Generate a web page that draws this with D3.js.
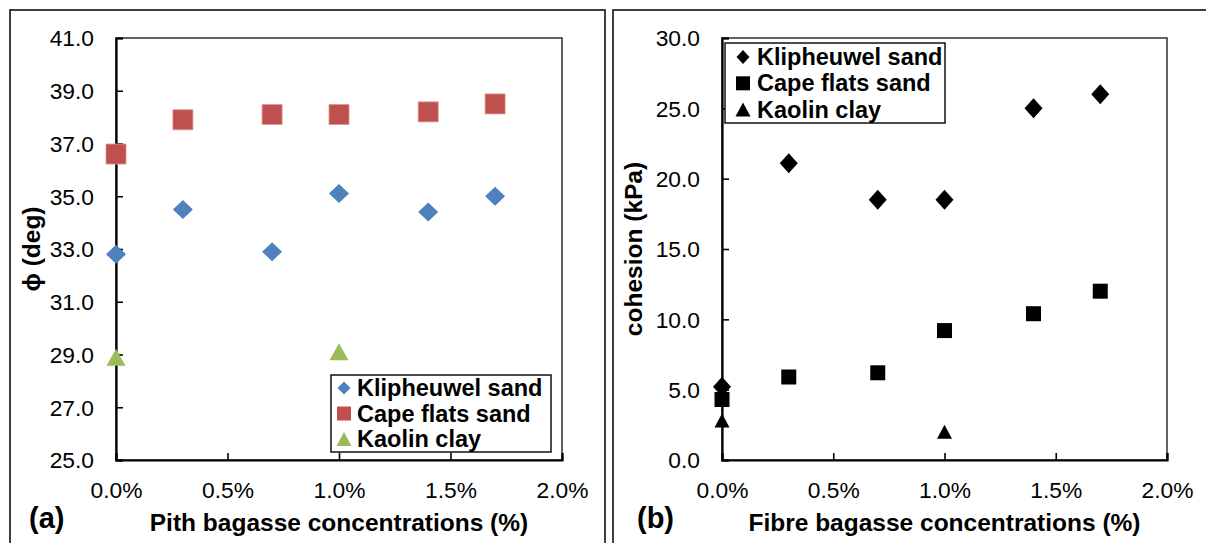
<!DOCTYPE html>
<html>
<head>
<meta charset="utf-8">
<script src="https://cdn.jsdelivr.net/npm/d3@7"></script>
<style>
  html, body { margin: 0; padding: 0; background: #fff; }
  svg { display: block; font-family: "Liberation Sans", Arial, sans-serif; }
</style>
</head>
<body>
<svg id="chart" width="1206" height="543"></svg>
<script>
// Bagasse concentration (fraction) at which samples were tested
const conc = [0, 0.003, 0.007, 0.010, 0.014, 0.017];
const kaolinConc = [0, 0.010];
const xTicks = [0, 0.005, 0.010, 0.015, 0.020];

// (a) friction angle, pith bagasse
const pithKlipheuwel = [32.8, 34.5, 32.9, 35.1, 34.4, 35.0];
const pithCapeFlats = [36.6, 37.9, 38.1, 38.1, 38.2, 38.5];
const pithKaolin = [28.9, 29.1];
const phiTicks = [25, 27, 29, 31, 33, 35, 37, 39, 41];

// (b) cohesion, fibre bagasse
const fibreKlipheuwel = [5.2, 21.1, 18.5, 18.5, 25.0, 26.0];
const fibreCapeFlats = [4.3, 5.9, 6.2, 9.2, 10.4, 12.0];
const fibreKaolin = [2.8, 2.0];
const cohesionTicks = [0, 5, 10, 15, 20, 25, 30];

const seriesNames = ["Klipheuwel sand", "Cape flats sand", "Kaolin clay"];

const svg = d3.select("#chart");

// widen text horizontally by factor k
function stretch(sel, k) {
  sel.each(function () {
    const w = this.getComputedTextLength();
    d3.select(this).attr("textLength", w * k).attr("lengthAdjust", "spacingAndGlyphs");
  });
}

// marker path generators centred on 0,0
function diamond(w, h) {
  return `M0,${-h / 2}L${w / 2},0L0,${h / 2}L${-w / 2},0Z`;
}
function square(s) {
  return `M${-s / 2},${-s / 2}h${s}v${s}h${-s}Z`;
}
function triangle(w, h) {
  return `M0,${-h / 2}L${w / 2},${h / 2}L${-w / 2},${h / 2}Z`;
}

// outer panel frames
svg.append("rect").attr("x", 10).attr("y", 10).attr("width", 595).attr("height", 560)
  .attr("fill", "none").attr("stroke", "#111").attr("stroke-width", 1.6);
svg.append("rect").attr("x", 613).attr("y", 10).attr("width", 620).attr("height", 560)
  .attr("fill", "none").attr("stroke", "#111").attr("stroke-width", 1.6);

function panel(cfg) {
  const g = svg.append("g");
  const x = d3.scaleLinear().domain([0, 0.02]).range([cfg.left, cfg.right]);
  const y = d3.scaleLinear().domain(cfg.yDomain).range([cfg.bottom, cfg.top]);

  // plot frame
  g.append("rect").attr("x", cfg.left).attr("y", cfg.top)
    .attr("width", cfg.right - cfg.left).attr("height", cfg.bottom - cfg.top)
    .attr("fill", "none").attr("stroke", "#222").attr("stroke-width", 1.4);

  // y axis with inward ticks
  const yAxis = g.append("g").attr("transform", `translate(${cfg.left},0)`)
    .call(d3.axisRight(y).tickValues(cfg.yTicks).tickSize(7).tickFormat(d3.format(".1f")));
  yAxis.select(".domain").attr("stroke", "#000").attr("stroke-width", 2.2);
  yAxis.selectAll(".tick line").attr("stroke", "#000").attr("stroke-width", 1.6);
  yAxis.selectAll(".tick text").attr("x", -22).attr("dy", "0.36em")
    .attr("text-anchor", "end").attr("font-size", 21.5).attr("fill", "#000")
    .attr("font-family", "Liberation Sans, Arial, sans-serif");
  stretch(yAxis.selectAll(".tick text"), 1.06);

  // x axis with inward ticks
  const xAxis = g.append("g").attr("transform", `translate(0,${cfg.bottom})`)
    .call(d3.axisTop(x).tickValues(xTicks).tickSize(7).tickFormat(d3.format(".1%")));
  xAxis.select(".domain").attr("stroke", "#000").attr("stroke-width", 2.2);
  xAxis.selectAll(".tick text").attr("y", 38).attr("dy", 0)
    .attr("font-size", 21.5).attr("fill", "#000")
    .attr("font-family", "Liberation Sans, Arial, sans-serif");
  xAxis.selectAll(".tick line").attr("stroke", "#000").attr("stroke-width", 1.6);
  stretch(xAxis.selectAll(".tick text"), 1.06);

  // axis titles
  g.append("text").attr("x", (cfg.left + cfg.right) / 2).attr("y", 531)
    .attr("text-anchor", "middle").attr("font-size", 24.5).attr("font-weight", "bold")
    .text(cfg.xTitle);
  g.append("text")
    .attr("transform", `translate(${cfg.yTitleX},${(cfg.top + cfg.bottom) / 2}) rotate(-90)`)
    .attr("text-anchor", "middle").attr("dy", "0.35em")
    .attr("font-size", 24.5).attr("font-weight", "bold")
    .text(cfg.yTitle);
  g.append("text").attr("x", cfg.letterX).attr("y", 528)
    .attr("font-size", 29).attr("font-weight", "bold").text(cfg.letter);

  // data markers
  const m = cfg.markers;
  const pts = g.append("g");
  pts.selectAll("path.s2").data(cfg.series[1]).join("path").attr("class", "s2")
    .attr("d", square(m.sq)).attr("fill", cfg.colors[1]).attr("stroke", cfg.strokes[1]).attr("stroke-width", 0.8)
    .attr("transform", (d, i) => `translate(${x(conc[i])},${y(d)})`);
  pts.selectAll("path.s1").data(cfg.series[0]).join("path").attr("class", "s1")
    .attr("d", diamond(m.dw, m.dh)).attr("fill", cfg.colors[0])
    .attr("transform", (d, i) => `translate(${x(conc[i])},${y(d)})`);
  pts.selectAll("path.s3").data(cfg.series[2]).join("path").attr("class", "s3")
    .attr("d", triangle(m.tw, m.th)).attr("fill", cfg.colors[2])
    .attr("transform", (d, i) => `translate(${x(kaolinConc[i])},${y(d)})`);

  // legend
  const L = cfg.legend;
  const lg = g.append("g");
  lg.append("rect").attr("x", L.x).attr("y", L.y).attr("width", L.w).attr("height", L.h)
    .attr("fill", "#fff").attr("stroke", "#111").attr("stroke-width", 1.5);
  const lm = L.markers;
  const shapes = [diamond(lm.dw, lm.dh), square(lm.sq), triangle(lm.tw, lm.th)];
  seriesNames.forEach((name, i) => {
    const by = L.baseline0 + i * L.step;
    lg.append("path").attr("d", shapes[i]).attr("fill", cfg.colors[i])
      .attr("transform", `translate(${L.markX},${by - 8})`);
    lg.append("text").attr("x", L.textX).attr("y", by)
      .attr("font-size", 23.5).attr("font-weight", "bold").attr("fill", "#000").text(name);
  });
}

panel({
  left: 116, right: 562, top: 38, bottom: 460,
  yDomain: [25, 41], yTicks: phiTicks,
  xTitle: "Pith bagasse concentrations (%)", yTitle: "ϕ (deg)", yTitleX: 31,
  letter: "(a)", letterX: 29,
  series: [pithKlipheuwel, pithCapeFlats, pithKaolin],
  colors: ["#4F81BD", "#C0504D", "#9BBB59"],
  strokes: ["none", "#d99694", "none"],
  markers: { dw: 20, dh: 19, sq: 20, tw: 19, th: 17 },
  legend: {
    x: 331, y: 375, w: 220, h: 77, baseline0: 396, step: 25.5, markX: 344, textX: 357,
    markers: { dw: 13, dh: 13, sq: 14, tw: 15, th: 14 }
  }
});

panel({
  left: 722, right: 1167, top: 38, bottom: 460,
  yDomain: [0, 30], yTicks: cohesionTicks,
  xTitle: "Fibre bagasse concentrations (%)", yTitle: "cohesion (kPa)", yTitleX: 633,
  letter: "(b)", letterX: 637,
  series: [fibreKlipheuwel, fibreCapeFlats, fibreKaolin],
  colors: ["#000", "#000", "#000"],
  strokes: ["none", "none", "none"],
  markers: { dw: 18, dh: 20, sq: 15, tw: 15, th: 14 },
  legend: {
    x: 725, y: 43, w: 220, h: 80, baseline0: 65, step: 26.3, markX: 743, textX: 757,
    markers: { dw: 13, dh: 14, sq: 14, tw: 15, th: 14 }
  }
});
</script>
</body>
</html>
